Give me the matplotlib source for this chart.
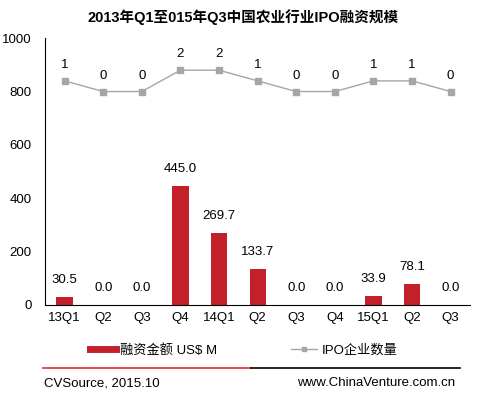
import matplotlib
matplotlib.use('Agg')
import matplotlib.pyplot as plt
from matplotlib.lines import Line2D

# data
quarters = ['13Q1', 'Q2', 'Q3', 'Q4', '14Q1', 'Q2', 'Q3', 'Q4', '15Q1', 'Q2', 'Q3']
amount = [30.5, 0.0, 0.0, 445.0, 269.7, 133.7, 0.0, 0.0, 33.9, 78.1, 0.0]
ipo_count = [1, 0, 0, 2, 2, 1, 0, 0, 1, 1, 0]

plt.rcParams['font.family'] = ['Liberation Sans', 'Noto Sans CJK SC']
bar_color = '#C4202B'
line_color = '#A6A6A6'

fig = plt.figure(figsize=(4.87, 3.98), dpi=100)
ax = fig.add_axes([0.093, 0.234, 0.872, 0.67])

x = list(range(len(quarters)))
ax.bar(x, amount, width=0.42, color=bar_color, zorder=2)
for xi, v in zip(x, amount):
    ax.annotate(f'{v:.1f}', (xi, v), xytext=(0, 8), textcoords='offset points',
                ha='center', va='bottom', fontsize=9.5)

ax.set_ylim(0, 1000)
ax.set_yticks(range(0, 1001, 200))
ax.set_xlim(-0.5, len(quarters) - 0.5)
ax.set_xticks(x)
ax.set_xticklabels(quarters)
ax.tick_params(axis='both', length=0, labelsize=9.5)
ax.tick_params(axis='y', pad=10)
ax.tick_params(axis='x', pad=5)
for s in ['top', 'right']:
    ax.spines[s].set_visible(False)

# secondary axis for IPO counts
ax2 = ax.twinx()
ax2.plot(x, ipo_count, color=line_color, marker='s', markersize=4, linewidth=1)
ax2.set_ylim(-20, 5)
ax2.axis('off')
for xi, v in zip(x, ipo_count):
    ax2.annotate(str(v), (xi, v), xytext=(0, 7), textcoords='offset points',
                 ha='center', va='bottom', fontsize=9.5)

fig.text(0.5, 0.958, '2013年Q1至015年Q3中国农业行业IPO融资规模', ha='center', va='center',
         fontsize=10.5, fontweight='bold', family=['Liberation Sans', 'Noto Sans CJK SC'])

handles = [Line2D([0], [0], color=bar_color, linewidth=5),
           Line2D([0], [0], color=line_color, marker='s', markersize=3.5, linewidth=1)]
fig.legend(handles, ['融资金额 US$ M', 'IPO企业数量'], loc='center',
           bbox_to_anchor=(0.5, 0.12), ncol=2, frameon=False, fontsize=9.5,
           columnspacing=5.6, handlelength=2.0, handletextpad=0.3)

# separator line
fig.add_artist(Line2D([0.088, 0.515], [0.075, 0.075], color='#E8262E', linewidth=1.2))
fig.add_artist(Line2D([0.515, 0.945], [0.075, 0.075], color='black', linewidth=1.2))

fig.text(0.09, 0.037, 'CVSource, 2015.10', ha='left', va='center', fontsize=9.5)
fig.text(0.935, 0.037, 'www.ChinaVenture.com.cn', ha='right', va='center', fontsize=9.5)

fig.savefig('out.png', dpi=100)
